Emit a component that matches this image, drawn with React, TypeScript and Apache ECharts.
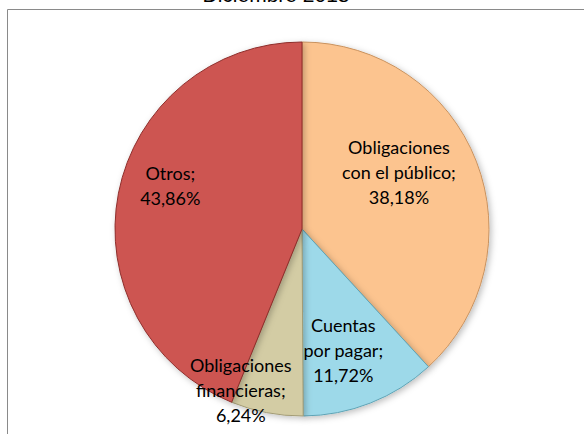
import React, { useEffect, useRef } from "react";
import * as echarts from "echarts";

const title = "Diciembre 2018";
const categories = [
  "Obligaciones con el público",
  "Cuentas por pagar",
  "Obligaciones financieras",
  "Otros",
];
const labelLines = [
  ["Obligaciones", "con el público;"],
  ["Cuentas", "por pagar;"],
  ["Obligaciones", "financieras;"],
  ["Otros;"],
];
const values = [38.18, 11.72, 6.24, 43.86];
const colors = ["#FCC48F", "#9DD9E9", "#D3CCA4", "#CD5451"];
const borders = ["#C9925E", "#5FA4B6", "#A39C76", "#8E2E2B"];
// label offsets from the slice's inner anchor
const labelShift = [
  [7, -22],
  [6, 31],
  [-43, 66],
  [-37, -25],
];

export default function App() {
  const ref = useRef<HTMLDivElement>(null);
  useEffect(() => {
    if (!ref.current) return;
    const chart = echarts.init(ref.current, undefined, { renderer: "svg" });
    chart.setOption({
      animation: false,
      backgroundColor: "#ffffff",
      graphic: [
        {
          type: "rect",
          shape: { x: 7.5, y: 9.5, width: 620, height: 460 },
          style: { fill: "none", stroke: "#8a8a8a", lineWidth: 1 },
          silent: true,
          z: -1,
        },
        {
          type: "text",
          x: 276,
          y: -6,
          silent: true,
          style: {
            text: title,
            fontFamily: "Liberation Sans, Arial, sans-serif",
            fontSize: 21,
            fill: "#000",
            textAlign: "center",
            textVerticalAlign: "middle",
          },
        },
      ],
      series: [
        {
          type: "pie",
          center: [302, 229],
          radius: [0, 187],
          startAngle: 90,
          clockwise: true,
          data: categories.map((name, i) => ({
            name,
            value: values[i],
            itemStyle: {
              color: colors[i],
              borderColor: borders[i],
              borderWidth: 1,
              shadowBlur: 6,
              shadowColor: "rgba(0,0,0,0.25)",
              shadowOffsetX: 2,
              shadowOffsetY: 2,
            },
          })),
          label: {
            show: true,
            position: "inside",
            formatter: (p: any) =>
              labelLines[p.dataIndex].join("\n") +
              "\n" +
              values[p.dataIndex].toFixed(2).replace(".", ",") +
              "%",
            fontFamily: "Lato, 'Open Sans', sans-serif",
            fontSize: 18,
            lineHeight: 25,
            color: "#000",
            align: "center",
          },
          labelLayout: (params: any) => {
            const s = labelShift[params.dataIndex];
            return { dx: s[0], dy: s[1] };
          },
          labelLine: { show: false },
          emphasis: { disabled: true },
        },
      ],
    });
    return () => chart.dispose();
  }, []);
  return (
    <div
      ref={ref}
      style={{ position: "fixed", left: 0, top: 0, width: 584, height: 434 }}
    />
  );
}
